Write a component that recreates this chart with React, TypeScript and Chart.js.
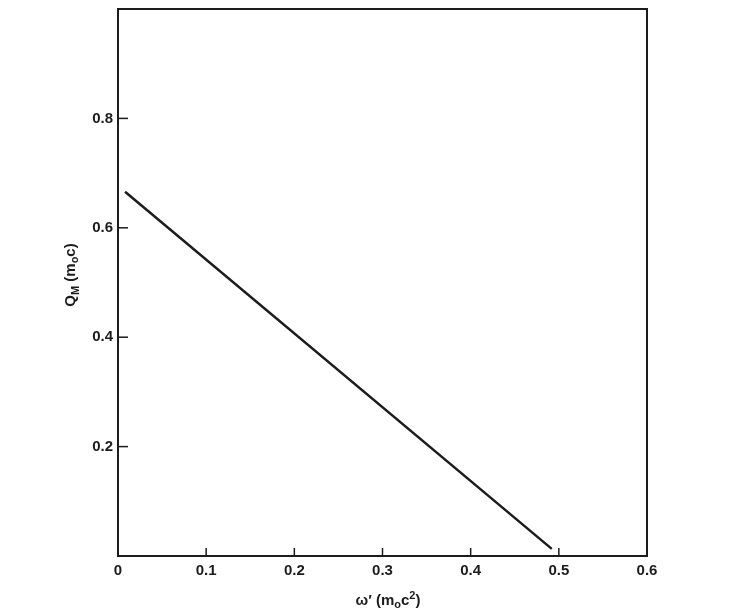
import React, { useEffect, useRef } from "react";
import { Chart, registerables } from "chart.js";

Chart.register(...registerables);

const lineX = [0.008, 0.492];
const lineY = [0.666, 0.013];
const xTickValues = [0, 0.1, 0.2, 0.3, 0.4, 0.5, 0.6];
const yTickLabels = ["0.2", "0.4", "0.6", "0.8"];

const INK = "#1c1c1c";
const FONT = "Liberation Sans, Arial, sans-serif";

const framePlugin = {
  id: "frame",
  afterDraw(chart: any) {
    const { ctx, chartArea } = chart;
    const xs = chart.scales.x;
    const ys = chart.scales.y;
    ctx.save();
    ctx.strokeStyle = INK;
    ctx.lineWidth = 2;
    ctx.strokeRect(chartArea.left, chartArea.top, chartArea.right - chartArea.left, chartArea.bottom - chartArea.top);
    // inward ticks
    ctx.lineWidth = 1.5;
    yTickLabels.forEach((t) => {
      const py = ys.getPixelForValue(parseFloat(t));
      ctx.beginPath();
      ctx.moveTo(chartArea.left, py);
      ctx.lineTo(chartArea.left + 10, py);
      ctx.stroke();
    });
    xTickValues.slice(1, -1).forEach((v) => {
      const px = xs.getPixelForValue(v);
      ctx.beginPath();
      ctx.moveTo(px, chartArea.bottom);
      ctx.lineTo(px, chartArea.bottom - 8);
      ctx.stroke();
    });
    // titles
    ctx.fillStyle = INK;
    ctx.textBaseline = "alphabetic";
    const big = `bold 15px ${FONT}`;
    const small = `bold 11px ${FONT}`;
    const drawParts = (parts: { t: string; f: string; dy: number }[], cx: number, cy: number, rot: number) => {
      ctx.save();
      ctx.translate(cx, cy);
      ctx.rotate(rot);
      let w = 0;
      parts.forEach((p) => {
        ctx.font = p.f;
        w += ctx.measureText(p.t).width;
      });
      let x = -w / 2;
      ctx.textAlign = "left";
      parts.forEach((p) => {
        ctx.font = p.f;
        ctx.fillText(p.t, x, 5 + p.dy);
        x += ctx.measureText(p.t).width;
      });
      ctx.restore();
    };
    drawParts(
      [
        { t: "ω′ (m", f: big, dy: 0 },
        { t: "o", f: small, dy: 3 },
        { t: "c", f: big, dy: 0 },
        { t: "2", f: small, dy: -6 },
        { t: ")", f: big, dy: 0 },
      ],
      388,
      600,
      0
    );
    drawParts(
      [
        { t: "Q", f: big, dy: 0 },
        { t: "M", f: small, dy: 4 },
        { t: " (m", f: big, dy: 0 },
        { t: "o", f: small, dy: 3 },
        { t: "c)", f: big, dy: 0 },
      ],
      70,
      275,
      -Math.PI / 2
    );
    ctx.restore();
  },
};

export default function App() {
  const ref = useRef<HTMLCanvasElement | null>(null);
  useEffect(() => {
    if (!ref.current) return;
    const chart = new Chart(ref.current, {
      type: "scatter",
      data: {
        datasets: [
          {
            data: lineX.map((x, i) => ({ x, y: lineY[i] })),
            showLine: true,
            borderColor: INK,
            borderWidth: 2.5,
            pointRadius: 0,
            fill: false,
          },
        ],
      },
      options: {
        animation: false,
        responsive: true,
        maintainAspectRatio: false,
        layout: { padding: { top: 9, right: 100, left: 0, bottom: 0 } },
        plugins: { legend: { display: false }, tooltip: { enabled: false } },
        scales: {
          x: {
            type: "linear",
            min: 0,
            max: 0.6,
            grid: { display: false, drawTicks: false },
            border: { display: false },
            afterBuildTicks: (s: any) => {
              s.ticks = xTickValues.map((v) => ({ value: v }));
            },
            afterFit: (s: any) => {
              s.height = 54;
              s.paddingLeft = 0;
              s.paddingRight = 0;
            },
            ticks: {
              padding: 6,
              color: INK,
              font: { family: FONT, size: 15, weight: "bold" },
              callback: (v: any) => (v === 0 ? "0" : Number(v).toFixed(1)),
            },
          },
          y: {
            type: "linear",
            min: 0,
            max: 1,
            grid: { display: false, drawTicks: false },
            border: { display: false },
            afterBuildTicks: (s: any) => {
              s.ticks = yTickLabels.map((t) => ({ value: parseFloat(t) }));
            },
            afterFit: (s: any) => {
              s.width = 118;
              s.paddingTop = 0;
              s.paddingBottom = 0;
            },
            ticks: {
              padding: 5,
              color: INK,
              font: { family: FONT, size: 15, weight: "bold" },
              callback: (v: any) => Number(v).toFixed(1),
            },
          },
        },
      },
      plugins: [framePlugin],
    });
    return () => chart.destroy();
  }, []);
  return (
    <div style={{ position: "fixed", left: 0, top: 0, width: 747, height: 610, background: "#fff" }}>
      <canvas ref={ref} />
    </div>
  );
}
